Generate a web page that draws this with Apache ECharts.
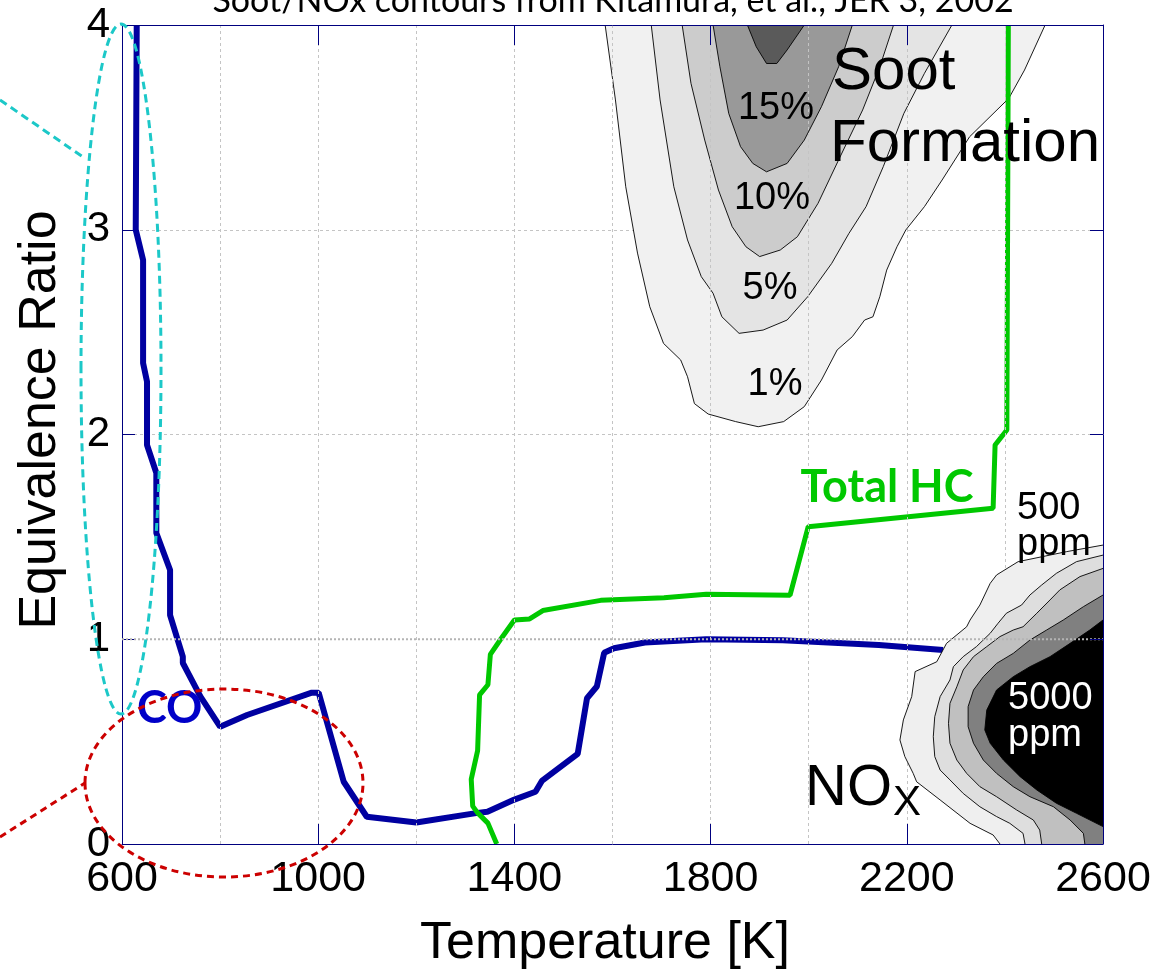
<!DOCTYPE html>
<html><head><meta charset="utf-8">
<script src="https://cdn.jsdelivr.net/npm/echarts@6/dist/echarts.min.js"></script>
<style>html,body{margin:0;padding:0;background:#fff}#c{width:1162px;height:971px}</style>
</head><body><div id="c"></div>
<script>
// ---------------- data ----------------
const xTickLabels = [600, 1000, 1400, 1800, 2200, 2600];
const yTickLabels = [0, 1, 2, 3, 4];

// CO limit curve [Temperature K, equivalence ratio]
const coCurve = [[630,4.0],[628,3.0],[643,2.852],[643,2.349],[651,2.258],[651,1.949],[670,1.812],[670,1.519],[698,1.338],[698,1.118],[724,0.915],[724,0.884],[760,0.72],[800,0.573],[855,0.63],[987,0.739],[1001,0.739],[1052,0.304],[1099,0.133],[1200,0.105],[1325,0.152],[1345,0.157],[1400,0.217],[1443,0.255],[1456,0.308],[1529,0.44],[1548,0.712],[1568,0.769],[1583,0.934],[1603,0.956],[1666,0.984],[1791,1.0],[1947,0.995],[2143,0.972],[2274,0.947]];

// Total HC limit curve
const hcCurve = [[1364,0.0],[1346,0.102],[1325,0.152],[1315,0.185],[1312,0.316],[1325,0.456],[1329,0.728],[1346,0.778],[1351,0.926],[1372,1.0],[1400,1.094],[1431,1.099],[1458,1.14],[1576,1.19],[1705,1.203],[1791,1.22],[1962,1.215],[1999,1.55],[2376,1.64],[2380,1.949],[2404,2.022],[2407,4.0]];

// Soot contours (Kitamura et al.)
const soot1 = [[1585,4.0],[1606,3.634],[1627,3.21],[1651,2.886],[1676,2.624],[1704,2.445],[1739,2.364],[1753,2.282],[1767,2.151],[1795,2.10],[1851,2.063],[1897,2.038],[1949,2.063],[1991,2.136],[2026,2.266],[2058,2.413],[2089,2.478],[2114,2.559],[2131,2.575],[2145,2.673],[2159,2.803],[2180,2.917],[2198,2.999],[2236,3.113],[2272,3.243],[2328,3.454],[2408,3.642],[2440,3.78],[2482,4.0]];
const soot5pct = [[1679,4.0],[1697,3.634],[1725,3.21],[1753,2.95],[1781,2.771],[1805,2.69],[1823,2.575],[1858,2.494],[1907,2.510],[1956,2.559],[1998,2.673],[2047,2.836],[2082,2.982],[2117,3.113],[2152,3.308],[2194,3.568],[2236,3.764],[2292,4.0]];
const soot10pct = [[1742,4.0],[1760,3.715],[1788,3.438],[1816,3.194],[1844,3.015],[1872,2.917],[1900,2.869],[1942,2.901],[1977,2.966],[2019,3.129],[2061,3.341],[2110,3.585],[2145,3.796],[2173,4.0]];
const soot15pct = [[1805,4.0],[1819,3.796],[1837,3.568],[1861,3.406],[1886,3.324],[1914,3.283],[1956,3.324],[1991,3.438],[2026,3.601],[2061,3.796],[2089,4.0]];
const soot20pct = [[1875,4.0],[1893,3.894],[1914,3.812],[1935,3.812],[1956,3.878],[1991,4.0]];

// NOx contours
const nox1 = [[2600,1.46],[2526,1.428],[2427,1.379],[2383,1.314],[2370,1.273],[2349,1.167],[2329,1.094],[2322,1.061],[2281,0.980],[2261,0.890],[2217,0.842],[2210,0.720],[2193,0.606],[2186,0.508],[2196,0.427],[2213,0.345],[2220,0.304],[2268,0.215],[2329,0.101],[2376,0.044],[2390,0.0]];
const nox2 = [[2600,1.411],[2546,1.379],[2505,1.322],[2475,1.265],[2451,1.216],[2434,1.167],[2403,1.127],[2386,1.078],[2370,1.029],[2342,0.964],[2315,0.915],[2295,0.866],[2288,0.801],[2268,0.720],[2257,0.622],[2254,0.524],[2257,0.427],[2268,0.361],[2288,0.313],[2315,0.247],[2349,0.182],[2383,0.134],[2410,0.101],[2437,0.052],[2441,0.0]];
const nox3 = [[2600,1.346],[2553,1.306],[2512,1.241],[2492,1.192],[2465,1.127],[2437,1.061],[2417,1.045],[2390,1.013],[2363,0.964],[2336,0.915],[2315,0.850],[2302,0.768],[2288,0.687],[2285,0.589],[2288,0.492],[2302,0.410],[2322,0.345],[2349,0.280],[2383,0.231],[2424,0.166],[2458,0.117],[2471,0.068],[2475,0.0]];
const nox4 = [[2600,1.216],[2560,1.159],[2519,1.094],[2485,1.045],[2451,0.996],[2417,0.931],[2383,0.882],[2356,0.817],[2336,0.752],[2325,0.671],[2325,0.573],[2336,0.492],[2356,0.410],[2383,0.345],[2417,0.280],[2451,0.231],[2499,0.182],[2533,0.117],[2560,0.052],[2563,0.0]];
const nox5 = [[2600,1.094],[2573,1.045],[2533,0.980],[2492,0.915],[2451,0.866],[2417,0.817],[2383,0.752],[2363,0.654],[2359,0.557],[2370,0.492],[2397,0.410],[2431,0.329],[2465,0.264],[2505,0.199],[2546,0.150],[2600,0.085]];
const noxCorner = [[2600,0.0]];

const stoichLine = [[600,1],[2600,1]];

// ---------------- chart ----------------
const NAVY = '#00007f';
const GRID = '#c4c4c4';
const chart = echarts.init(document.getElementById('c'), null, {renderer: 'canvas'});

function contour(pts, closing, fill, z) {
  return {
    type: 'custom', coordinateSystem: 'cartesian2d', xAxisIndex: 0, yAxisIndex: 0,
    silent: true, clip: true, z: z, data: [[600, 0]],
    renderItem: function (params, api) {
      const line = pts.map(p => api.coord(p));
      const poly = line.concat(closing.map(p => api.coord(p)));
      return {type: 'group', children: [
        {type: 'polygon', shape: {points: poly}, style: {fill: fill, stroke: null}},
        {type: 'polyline', shape: {points: line}, style: {stroke: '#000', lineWidth: 0.9, fill: null}}
      ]};
    }
  };
}

const labelFont = "'Liberation Sans', Arial, sans-serif";
const hidden = {axisLine: {show: false}, axisTick: {show: false}, axisLabel: {show: false}, splitLine: {show: false}};
const frameAxis = (extra) => Object.assign({
  type: 'value', z: 10,
  axisLine: {show: true, onZero: false, lineStyle: {color: NAVY, width: 1}},
  splitLine: {show: false}
}, extra);

const option = {
  animation: false,
  backgroundColor: '#fff',
  grid: {left: 122, right: 59, top: 25, bottom: 127, containLabel: false},
  xAxis: [
    // vertical grid lines (above soot, below NOx)
    Object.assign({type: 'value', min: 600, max: 2600, interval: 400, position: 'bottom', z: 3}, hidden, {
      splitLine: {show: true, showMinLine: false, showMaxLine: false, lineStyle: {color: GRID, width: 1, type: [3, 3]}},
      minorTick: {show: false, splitNumber: 2},
      minorSplitLine: {show: true, lineStyle: {color: GRID, width: 1, type: [3, 3]}}
    }),
    frameAxis({min: 600, max: 2600, interval: 400, position: 'top',
      axisTick: {show: true, inside: true, length: 20, lineStyle: {color: NAVY, width: 1}},
      axisLabel: {show: false}}),
    frameAxis({min: 600, max: 2600, interval: 400, position: 'bottom',
      axisTick: {show: true, inside: true, length: 20, lineStyle: {color: NAVY, width: 1}},
      axisLabel: {show: true, fontSize: 43, color: '#000', margin: 14, fontFamily: labelFont,
        formatter: v => xTickLabels.includes(v) ? String(v) : ''}})
  ],
  yAxis: [
    {type: 'value', min: 0, max: 4, interval: 1, position: 'left', z: 0,
      axisLine: {show: true, onZero: false, lineStyle: {color: NAVY, width: 1}},
      axisTick: {show: true, inside: true, length: 13, lineStyle: {color: NAVY, width: 1}},
      axisLabel: {show: true, fontSize: 42, color: '#000', margin: 12, fontFamily: labelFont,
        formatter: v => yTickLabels.includes(v) ? String(v) : ''},
      splitLine: {show: true, showMinLine: false, showMaxLine: false,
        lineStyle: {color: ['rgba(0,0,0,0)', GRID, GRID], width: 1, type: [3, 3]}}},
    frameAxis({min: 0, max: 4, interval: 1, position: 'right',
      axisTick: {show: true, inside: true, length: 13, lineStyle: {color: NAVY, width: 1}},
      axisLabel: {show: false}})
  ],
  series: [
    contour(soot1, [], '#f1f1f1', 1),
    contour(soot5pct, [], '#e4e4e4', 1),
    contour(soot10pct, [], '#cccccc', 1),
    contour(soot15pct, [], '#999999', 1),
    contour(soot20pct, [], '#5a5a5a', 1),
    {type: 'line', name: 'CO', data: coCurve, showSymbol: false, smooth: false, z: 2,
      lineStyle: {color: '#0000a0', width: 6}, silent: true},
    {type: 'line', name: 'Total HC', data: hcCurve, showSymbol: false, smooth: false, z: 2,
      lineStyle: {color: '#00c800', width: 5}, silent: true},
    contour(nox1, noxCorner, '#efefef', 5),
    contour(nox2, noxCorner, '#dedede', 5),
    contour(nox3, noxCorner, '#c0c0c0', 5),
    contour(nox4, noxCorner, '#808080', 5),
    contour(nox5, [], '#000000', 5),
    {type: 'line', name: 'phi=1', data: stoichLine, showSymbol: false, z: 6, silent: true,
      lineStyle: {color: '#b4b4b4', width: 2, type: [2, 2]}}
  ]
};
chart.setOption(option);

const T = (text, x, y, size, opts) => Object.assign({
  type: 'text', x: x, y: y, z: 50, silent: true,
  style: Object.assign({text: text, font: size + 'px ' + labelFont, fill: '#000', align: 'left', verticalAlign: 'middle'}, (opts || {}).style || {})
}, (opts || {}).el || {});

const g = [
  T('Soot/NOx contours from Kitamura, et al., JER 3, 2002', 613, 1, 34, {style: {font: '34px Lato, sans-serif', align: 'center'}}),
  T('Soot', 832, 72, 60),
  T('Formation', 830, 144, 60),
  T('15%', 776, 109, 38, {style: {align: 'center'}}),
  T('10%', 772, 199, 38, {style: {align: 'center'}}),
  T('5%', 770, 289, 38, {style: {align: 'center'}}),
  T('1%', 775, 385, 38, {style: {align: 'center'}}),
  T('Total HC', 887, 487, 45, {style: {font: 'bold 45px Lato, sans-serif', fill: '#00c800', align: 'center'}}),
  T('CO', 137, 708, 45, {style: {font: 'bold 45px Lato, sans-serif', fill: '#0000c8'}}),
  T('500', 1017, 509, 38),
  T('ppm', 1017, 545, 38),
  T('5000', 1008, 699, 38, {style: {fill: '#fff'}}),
  T('ppm', 1008, 736, 38, {style: {fill: '#fff'}}),
  T('NO', 805, 789, 58),
  T('X', 893, 803, 42),
  T('Temperature [K]', 605, 944, 52, {style: {align: 'center'}}),
  T('Equivalence Ratio', 41, 420, 52, {style: {align: 'center'}, el: {rotation: Math.PI / 2}}),
  // annotation shapes
  {type: 'ellipse', z: 60, silent: true, shape: {cx: 121, cy: 369, rx: 40, ry: 345},
    style: {fill: null, stroke: '#1cc8c8', lineWidth: 3, lineDash: [8, 5]}},
  {type: 'line', z: 60, silent: true, shape: {x1: 0, y1: 100, x2: 83, y2: 157},
    style: {stroke: '#1cc8c8', lineWidth: 3, lineDash: [8, 5]}},
  {type: 'ellipse', z: 60, silent: true, shape: {cx: 224, cy: 783, rx: 139, ry: 94},
    style: {fill: null, stroke: '#cc0000', lineWidth: 3, lineDash: [7, 5]}},
  {type: 'line', z: 60, silent: true, shape: {x1: 0, y1: 837, x2: 85, y2: 783},
    style: {stroke: '#cc0000', lineWidth: 3, lineDash: [7, 5]}}
];
chart.setOption({graphic: g});
</script>
</body></html>
